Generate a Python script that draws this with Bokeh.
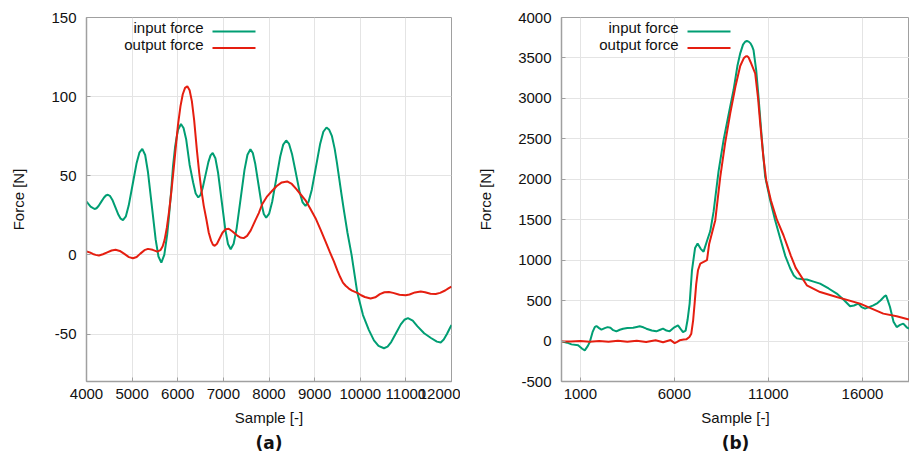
from bokeh.plotting import figure
from bokeh.layouts import row
from bokeh.models import Range1d, FixedTicker, Label, Arrow, Title, CustomJSTickFormatter
from bokeh.embed import file_html
from bokeh.resources import INLINE

# ---------------- data: panel (a) ----------------
sample_a_in = [4000, 4090, 4176, 4220, 4264, 4322, 4381, 4425, 4469, 4519, 4568, 4634, 4700, 4749, 4799,
               4863, 4926, 5011, 5096, 5159, 5223, 5286, 5348, 5432, 5515, 5577, 5640, 5705, 5769, 5800,
               5855, 5896, 5941, 5968, 6006, 6070, 6127, 6184, 6260, 6336, 6393, 6450, 6497, 6545, 6608,
               6671, 6719, 6766, 6825, 6884, 6963, 7042, 7101, 7160, 7225, 7290, 7377, 7463, 7528, 7593,
               7645, 7697, 7766, 7835, 7886, 7938, 8004, 8070, 8158, 8246, 8312, 8377, 8440, 8504, 8589,
               8673, 8737, 8800, 8869, 8938, 9030, 9122, 9191, 9260, 9320, 9380, 9440, 9490, 9532, 9590,
               9640, 9720, 9810, 9935, 10060, 10190, 10300, 10400, 10520, 10599, 10678, 10783, 10888,
               10967, 11046, 11150, 11250, 11400, 11550, 11680, 11764, 11830, 11900, 11960, 12000]
force_a_in = [33.7, 30.5, 29, 29.5, 30.9, 33.5, 36.1, 37.5, 38, 37.1, 34.7, 30, 25.3, 22.9, 22,
              24.4, 31.3, 44.5, 57.7, 64.6, 67, 63.1, 52.2, 31, 9.9, -1, -4.9, 0, 13, 22,
              40, 56, 68, 73, 79, 82.7, 80.2, 73.1, 57, 45.9, 38.8, 36.3, 37.8, 42.1, 50.4,
              58.6, 62.9, 64.4, 61.1, 51.9, 34, 16.1, 6.9, 3.6, 7, 16.6, 35.2, 53.7, 63.3, 66.7,
              64.4, 57.8, 45.1, 32.4, 25.8, 23.5, 26.1, 33.6, 47.9, 62.2, 69.7, 72.3, 70.1, 63.8, 51.7,
              39.5, 33.2, 31, 33.7, 41.2, 55.8, 70.3, 77.8, 80.5, 79, 75, 67, 58, 49.6, 38,
              28.5, 14, 0, -23.8, -38, -47.5, -54, -57.5, -59, -58, -55.1, -49.5, -43.9,
              -41, -40, -41.5, -45, -49.5, -52.5, -54.8, -55.3, -53.5, -50, -46.5, -44.3]
sample_a_out = [4000, 4070, 4140, 4200, 4272, 4360, 4455, 4550, 4637, 4730, 4830, 4930, 5018, 5100, 5180,
                5270, 5347, 5450, 5552, 5620, 5670, 5712, 5760, 5808, 5860, 5920, 5970, 6006, 6060, 6110,
                6160, 6210, 6260, 6310, 6360, 6420, 6470, 6518, 6570, 6627, 6680, 6730, 6770, 6810, 6860,
                6920, 6980, 7050, 7117, 7200, 7290, 7370, 7446, 7520, 7600, 7703, 7776, 7850, 7960, 8070,
                8170, 8280, 8398, 8500, 8600, 8700, 8800, 8900, 9020, 9130, 9240, 9330, 9420, 9500, 9560,
                9620, 9680, 9750, 9820, 9935, 10020, 10100, 10227, 10330, 10430, 10530, 10628, 10720, 10860,
                10995, 11080, 11200, 11325, 11420, 11540, 11654, 11750, 11860, 11940, 12000]
force_a_out = [2.1, 1.6, 0.6, 0, -0.4, 0.4, 1.6, 2.8, 3.2, 2.5, 0.6, -1.4, -2.1, -1.3, 0.8,
               3, 3.8, 3.2, 2.1, 3, 5.5, 9.5, 17, 27, 40, 57, 72, 82.3, 94, 101.5,
               105.5, 106.5, 104, 97, 85, 66, 52, 41, 31, 22.5, 14, 9, 6.5, 5.7, 7,
               10.5, 14, 16.2, 16.5, 14.8, 12.5, 11, 10.6, 12, 15.5, 22, 26.4, 32, 37, 40.5,
               43.5, 45.8, 46.4, 44.8, 41.5, 38, 34.5, 29.5, 23.2, 16, 8.4, 2, -4, -10, -14,
               -17.5, -19.5, -21.3, -22.6, -24, -25.5, -26.6, -27.6, -26.8, -24.8, -23.6, -23.4, -24, -25.2,
               -25.5, -25, -23.7, -23.2, -23.6, -24.5, -24.7, -24, -22.5, -21, -20]

# ---------------- data: panel (b) ----------------
sample_b_in = [0, 300, 531, 884, 1100, 1238, 1400, 1504, 1650, 1769, 1858, 2000, 2123, 2300, 2450, 2600,
               2750, 2919, 3100, 3275, 3500, 3806, 4000, 4158, 4350, 4512, 4800, 5043, 5250, 5398, 5580,
               5750, 6000, 6193, 6330, 6458, 6600, 6700, 6812, 6936, 7100, 7235, 7400, 7553, 7750, 7909,
               8085, 8350, 8615, 8900, 9146, 9350, 9501, 9650, 9760, 9857, 9950, 10050, 10130, 10208,
               10350, 10473, 10650, 10828, 11094, 11350, 11625, 11900, 12155, 12350, 12510, 12800, 13041,
               13400, 13747, 14200, 14632, 15000, 15340, 15550, 15781, 15950, 16137, 16350, 16577, 16800,
               16970, 17150, 17251, 17350, 17463, 17650, 17819, 18000, 18169, 18350, 18472]
force_b_in = [-4, -20, -41, -53, -95, -115, -60, -12, 110, 173, 186, 160, 141, 160, 172, 165,
              135, 120, 140, 153, 160, 165, 175, 182, 170, 153, 130, 120, 140, 153, 130,
              120, 170, 194, 150, 111, 130, 260, 463, 875, 1150, 1205, 1140, 1105, 1250, 1360,
              1600, 2100, 2484, 2820, 3103, 3400, 3557, 3665, 3700, 3709, 3702, 3680, 3645, 3598,
              3350, 3020, 2500, 2030, 1741, 1500, 1270, 1050, 900, 810, 775, 765, 760,
              735, 710, 650, 587, 510, 430, 440, 463, 420, 401, 420, 442, 470,
              504, 550, 566, 500, 421, 240, 173, 200, 215, 170, 153]
sample_b_out = [0, 500, 1000, 1500, 2000, 2500, 3000, 3500, 4000, 4500, 5000, 5400, 5800, 6015, 6150,
                6280, 6500, 6635, 6800, 6900, 7000, 7076, 7160, 7255, 7378, 7553, 7734, 7850, 8175, 8440,
                8700, 8970, 9250, 9500, 9700, 9790, 9857, 9950, 10050, 10297, 10450, 10563, 10720, 10881,
                11130, 11450, 11800, 12200, 12450, 13041, 13747, 14632, 15870, 17108, 17819, 18472]
force_b_out = [-4, -6, 0, -8, 0, -10, 5, -8, 4, -12, 10, -15, 12, -25, -10,
               9, 18, 21, 50, 91, 260, 463, 700, 875, 958, 978, 1000, 1200, 1494, 2030,
               2450, 2814, 3150, 3400, 3500, 3518, 3523, 3505, 3450, 3309, 3000, 2691, 2300, 1989,
               1741, 1500, 1308, 1050, 905, 689, 606, 545, 463, 339, 306, 265]

ticks_a_x = [4000, 5000, 6000, 7000, 8000, 9000, 10000, 11000, 12000]
ticks_a_y = [-50, 0, 50, 100, 150]
ticks_b_x = [1000, 6000, 11000, 16000]
ticks_b_y = [-500, 0, 500, 1000, 1500, 2000, 2500, 3000, 3500, 4000]

GREEN = "#009e73"
RED = "#e51e10"
FONT = "Liberation Sans"
AXIS_GRAY = "#a0a0a0"


def make_panel(xs_in, ys_in, xs_out, ys_out, xr, yr, xt, yt, caption, width, border_left, border_right):
    p = figure(width=width, height=457, x_range=Range1d(*xr), y_range=Range1d(*yr),
               output_backend="svg", toolbar_location=None,
               min_border_left=border_left, min_border_right=border_right,
               min_border_top=17, min_border_bottom=76)
    p.background_fill_color = "white"
    p.border_fill_color = "white"
    p.outline_line_color = AXIS_GRAY
    p.outline_line_width = 1

    p.line(xs_in, ys_in, line_color=GREEN, line_width=2)
    p.line(xs_out, ys_out, line_color=RED, line_width=2)

    fmt = CustomJSTickFormatter(code="return tick.toString();")
    p.xaxis.ticker = FixedTicker(ticks=xt)
    p.yaxis.ticker = FixedTicker(ticks=yt)
    p.xaxis.formatter = fmt
    p.yaxis.formatter = CustomJSTickFormatter(code="return tick.toString();")
    p.xaxis.axis_label = "Sample [-]"
    p.yaxis.axis_label = "Force [N]"
    for ax in (p.xaxis[0], p.yaxis[0]):
        ax.axis_line_color = AXIS_GRAY
        ax.axis_line_width = 1.5
        ax.major_tick_line_color = AXIS_GRAY
        ax.major_tick_in = 4
        ax.major_tick_out = 0
        ax.minor_tick_line_color = None
        ax.major_label_text_font = FONT
        ax.major_label_text_font_size = "15px"
        ax.major_label_text_color = "#111111"
        ax.axis_label_text_font = FONT
        ax.axis_label_text_font_size = "15px"
        ax.axis_label_text_font_style = "normal"
        ax.axis_label_text_color = "#111111"
    p.yaxis.major_label_standoff = 10
    p.yaxis.axis_label_standoff = 21
    p.xaxis.major_label_standoff = 7
    p.xaxis.axis_label_standoff = 7

    p.xgrid.ticker = FixedTicker(ticks=xt)
    p.ygrid.ticker = FixedTicker(ticks=yt)
    p.grid.grid_line_color = "#e4e4e4"
    p.grid.grid_line_width = 1

    # legend (text left of sample line, as in the reference)
    fh = 364
    for i, (name, col) in enumerate((("input force", GREEN), ("output force", RED))):
        ty = fh - 10.3 - i * 16.5
        ly = fh - 14 - i * 16.5
        p.add_layout(Label(x=117, y=ty, x_units="screen", y_units="screen", text=name,
                           text_align="right", text_baseline="middle", text_font=FONT,
                           text_font_size="15px", text_color="#111111"))
        p.add_layout(Arrow(end=None, x_start=126, y_start=ly, x_end=169, y_end=ly,
                           start_units="screen", end_units="screen",
                           line_color=col, line_width=2))

    p.add_layout(Title(text=caption, align="center", text_font="DejaVu Sans",
                       text_font_style="bold", text_font_size="17px", text_color="#111111",
                       standoff=4), "below")
    return p


pa = make_panel(sample_a_in, force_a_in, sample_a_out, force_a_out, (4000, 12000), (-80, 150),
                ticks_a_x, ticks_a_y, "(a)", 460, 86, 9)
pb = make_panel(sample_b_in, force_b_in, sample_b_out, force_b_out, (0, 18500), (-500, 4000),
                ticks_b_x, ticks_b_y, "(b)", 449, 101, 0)

layout = row(pa, pb, spacing=0)
open("out.html", "w").write(file_html(layout, INLINE))
